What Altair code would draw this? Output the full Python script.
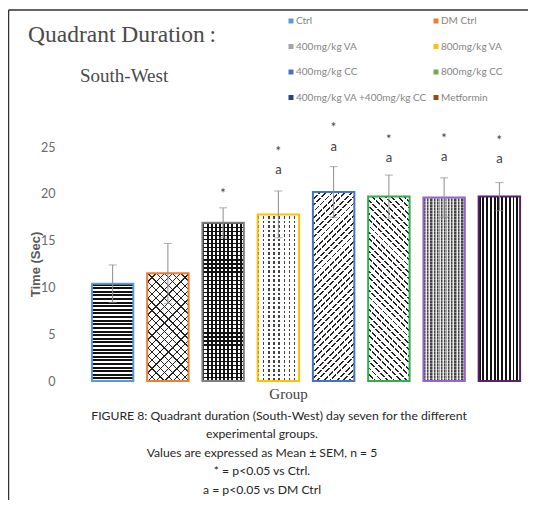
import altair as alt
import pandas as pd

# ---------------- data ----------------
groups = ["Ctrl", "DM Ctrl", "400mg/kg VA", "800mg/kg VA", "400mg/kg CC",
          "800mg/kg CC", "400mg/kg VA +400mg/kg CC", "Metformin"]
means = [10.4, 11.5, 16.9, 17.8, 20.2, 19.7, 19.6, 19.7]
sems = [2.0, 3.2, 1.6, 2.5, 2.7, 2.3, 2.1, 1.5]
legend_colors = ["#5B9BD5", "#ED7D31", "#A5A5A5", "#FFC000", "#4472C4",
                 "#70AD47", "#264478", "#9E480E"]
border_colors = ["#5B9BD5", "#ED7D31", "#7F7F7F", "#FFC000", "#4472C4",
                 "#2FAE4E", "#9466C9", "#5B1F70"]
star_groups = ["400mg/kg VA", "800mg/kg VA", "400mg/kg CC", "800mg/kg CC",
               "400mg/kg VA +400mg/kg CC", "Metformin"]
star_pos = [20.3, 24.8, 27.4, 26.1, 26.2, 26.0]
a_groups = ["800mg/kg VA", "400mg/kg CC", "800mg/kg CC",
            "400mg/kg VA +400mg/kg CC", "Metformin"]
a_pos = [22.5, 25.0, 23.8, 23.9, 23.7]
y_ticks = [0, 5, 10, 15, 20, 25]
caption_lines = [
    "experimental groups.",
    "Values are expressed as Mean \u00b1 SEM, n = 5",
    "* = p<0.05 vs Ctrl.",
    "a = p<0.05 vs DM Ctrl",
]
caption_first = "FIGURE 8: Quadrant duration (South-West) day seven  for the different"

df = pd.DataFrame({"Group": groups, "Mean": means, "SEM": sems})
df["lo"] = df["Mean"] - df["SEM"]
df["hi"] = df["Mean"] + df["SEM"]
stars = pd.DataFrame({"Group": star_groups, "pos": star_pos, "t": "*"})
aa = pd.DataFrame({"Group": a_groups, "pos": a_pos, "t": "a"})
one = pd.DataFrame({"k": [0]})

# ---------------- layout ----------------
W_PLOT, H_PLOT = 442, 234
PAD = {"left": 77, "top": 139, "right": 1, "bottom": 119}
BAR_W = W_PLOT / 8 * 0.75
PX_PER = H_PLOT / 25
SERIF = "Liberation Serif"
SANS = "Lato"

xenc = alt.X("Group:N",
             scale=alt.Scale(domain=groups, paddingInner=0.25, paddingOuter=0.125),
             axis=alt.Axis(title="Group", labels=False, ticks=False, domain=False,
                           grid=False, titleFont=SERIF, titleFontSize=15,
                           titleFontWeight="normal", titleColor="#404040",
                           titleX=203, titleY=12, titleBaseline="middle"))
yscale = alt.Scale(domain=[0, 25], nice=False, zero=True)
yaxis = alt.Axis(title="Time (Sec)", values=y_ticks, grid=False, ticks=False,
                 tickSize=0, domain=False, labelPadding=30, labelFont=SANS,
                 labelFontSize=12.5, labelColor="#6b6b6b", titleFont="Liberation Sans",
                 titleFontSize=13, titleFontWeight="bold", titleColor="#595959",
                 titleAngle=270, titleX=-50, titleY=117, titleAlign="center",
                 titleBaseline="middle")


def Y(field):
    return alt.Y(field, scale=yscale, axis=yaxis)


# ---------------- pattern gradients ----------------
def lin(stops, x1, y1, x2, y2):
    return alt.LinearGradient(
        gradient="linear",
        stops=[alt.GradientStop(offset=round(min(max(o, 0), 1), 5), color=c) for o, c in stops],
        x1=round(x1, 5), y1=round(y1, 5), x2=round(x2, 5), y2=round(y2, 5))


def stripe_stops(n, segs):
    stops = []
    for i in range(n):
        start = i / n
        for frac, color in segs:
            end = start + frac / n
            stops += [(start, color), (end, color)]
            start = end
    return stops


def grad(kind, period, segs, wb, hb):
    if kind == "h":
        n = max(1, round(hb / period))
        return lin(stripe_stops(n, segs), 0, 0, 0, 1)
    if kind == "v":
        n = max(1, round(wb / period))
        return lin(stripe_stops(n, segs), 0, 0, 1, 0)
    s = (wb + hb) / (wb ** 2 + hb ** 2)
    n = max(1, round((wb + hb) / (period * 2 ** 0.5)))
    if kind == "/":
        return lin(stripe_stops(n, segs), 0, 0, wb * s, hb * s)
    return lin(stripe_stops(n, segs), 0, 1, wb * s, 1 - hb * s)


K, WH, TR = "#111111", "#ffffff", "rgba(0,0,0,0)"
patterns = {
    "Ctrl": [("h", 3.6, [(0.55, K), (0.45, WH)])],
    "DM Ctrl": [("/", 5.7, [(0.16, "#222222"), (0.84, WH)]),
                ("\\", 5.7, [(0.16, "#222222"), (0.84, TR)])],
    "400mg/kg VA": [("v", 4.1, [(0.5, K), (0.5, WH)]),
                    ("h", 4.1, [(0.3, K), (0.7, TR)])],
    "800mg/kg VA": [("v", 5.0, [(0.3, "#444444"), (0.7, WH)]),
                    ("h", 4.5, [(0.4, WH), (0.6, TR)])],
    "400mg/kg CC": [("/", 4.5, [(0.3, "#222222"), (0.7, WH)]),
                    ("\\", 7.0, [(0.2, WH), (0.8, TR)])],
    "800mg/kg CC": [("\\", 4.5, [(0.3, "#222222"), (0.7, WH)]),
                    ("/", 7.0, [(0.2, WH), (0.8, TR)])],
    "400mg/kg VA +400mg/kg CC": [("v", 3.5, [(0.35, "#444444"), (0.35, "#9a9a9a"), (0.3, "#e6e6e6")]),
                                 ("h", 3.0, [(0.4, "rgba(255,255,255,0.35)"), (0.6, TR)])],
    "Metformin": [("v", 3.7, [(0.5, K), (0.5, WH)])],
}

base = alt.Chart(df)
layers = []

# frame lines
layers.append(alt.Chart(one).mark_rule(color="#333333", strokeWidth=1.5).encode(
    x=alt.value(-76.5), y=alt.value(-137), y2=alt.value(360)))
layers.append(alt.Chart(one).mark_rule(color="#333333", strokeWidth=1.5).encode(
    x=alt.value(-76.5), x2=alt.value(460), y=alt.value(-137)))

# legend carrier (invisible marks, provides the colour legend)
layers.append(base.mark_square(opacity=0).encode(
    x=xenc, y=Y("Mean:Q"),
    color=alt.Color("Group:N", scale=alt.Scale(domain=groups, range=legend_colors),
                    legend=alt.Legend(orient="none", legendX=201, legendY=-131,
                                      direction="horizontal", columns=2, title=None,
                                      symbolType="square", symbolSize=25,
                                      symbolOpacity=1, symbolStrokeWidth=0,
                                      labelFont=SANS, labelFontSize=10,
                                      labelColor="#858585", rowPadding=15.5,
                                      columnPadding=4, labelOffset=0, padding=0))))

for g, m, bc in zip(groups, means, border_colors):
    hb = m * PX_PER
    sub = base.transform_filter(alt.datum.Group == g)
    for kind, period, segs in patterns[g]:
        layers.append(sub.mark_bar(
            fill=grad(kind, period, segs, BAR_W, hb), strokeWidth=0).encode(
            x=xenc, y=Y("Mean:Q")))
    layers.append(sub.mark_bar(fillOpacity=0, stroke=bc, strokeWidth=2).encode(
        x=xenc, y=Y("Mean:Q")))

# error bars
layers.append(base.mark_rule(color="#8c8c8c", strokeWidth=1).encode(
    x=xenc, y=Y("lo:Q"), y2="hi:Q"))
layers.append(base.mark_tick(color="#8c8c8c", thickness=1, size=8).encode(
    x=xenc, y=Y("hi:Q")))
layers.append(base.mark_tick(color="#8c8c8c", thickness=1, size=8).encode(
    x=xenc, y=Y("lo:Q")))

# significance marks
layers.append(alt.Chart(stars).mark_text(font=SANS, fontSize=13, color="#404040",
                                         baseline="middle", dy=3).encode(
    x=xenc, y=Y("pos:Q"), text="t:N"))
layers.append(alt.Chart(aa).mark_text(font=SANS, fontSize=13, color="#404040",
                                      baseline="middle").encode(
    x=xenc, y=Y("pos:Q"), text="t:N"))

# titles
layers.append(alt.Chart(one).mark_text(font=SERIF, fontSize=23.5, color="#4a4a4a",
                                       align="left", baseline="alphabetic").encode(
    x=alt.value(-57), y=alt.value(-105), text=alt.value("Quadrant Duration\u2009:")))
layers.append(alt.Chart(one).mark_text(font=SERIF, fontSize=19, color="#4a4a4a",
                                       align="left", baseline="alphabetic").encode(
    x=alt.value(-5), y=alt.value(-65), text=alt.value("South-West")))

# caption
CAP_SIZE = 12.2
layers.append(alt.Chart(one).mark_text(font=SANS, fontSize=CAP_SIZE, color="#262626",
                                       align="center", baseline="middle").encode(
    x=alt.value(194), y=alt.value(268.5), text=alt.value(caption_first)))
for i, line in enumerate(caption_lines):
    layers.append(alt.Chart(one).mark_text(font=SANS, fontSize=CAP_SIZE, color="#262626",
                                           align="center", baseline="middle").encode(
        x=alt.value(177), y=alt.value(287 + i * 18.6), text=alt.value(line)))

chart = alt.layer(*layers).properties(
    width=W_PLOT, height=H_PLOT, padding=PAD,
    autosize=alt.AutoSizeParams(type="none")
).configure(background="white").configure_view(stroke=None)

chart.save("out.html", embed_options={"renderer": "svg", "actions": False})
